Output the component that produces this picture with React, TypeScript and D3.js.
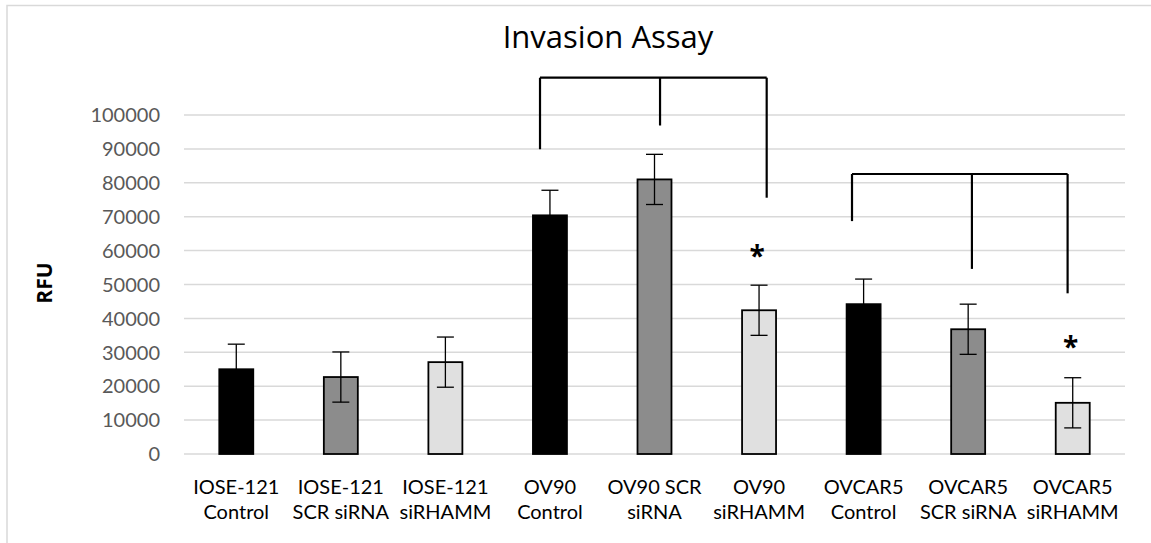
import React, { useEffect, useRef } from 'react';
import * as d3 from 'd3';

// Invasion assay, RFU per condition
const categories = [
  'IOSE-121|Control',
  'IOSE-121|SCR siRNA',
  'IOSE-121|siRHAMM',
  'OV90|Control',
  'OV90 SCR|siRNA',
  'OV90|siRHAMM',
  'OVCAR5|Control',
  'OVCAR5|SCR siRNA',
  'OVCAR5|siRHAMM',
];
const values = [25000, 22700, 27100, 70400, 81000, 42400, 44200, 36800, 15100];
const errors = [7400, 7400, 7400, 7400, 7400, 7400, 7400, 7400, 7400];
const treatment = ['control', 'scr', 'rhamm', 'control', 'scr', 'rhamm', 'control', 'scr', 'rhamm'];
const yTicks = [0, 10000, 20000, 30000, 40000, 50000, 60000, 70000, 80000, 90000, 100000];

// significance brackets: which bars, where the top line sits, where each leg ends
const bracketBars = [[3, 4, 5], [6, 7, 8]];
const bracketTop = [111000, 82600];
const bracketEnds = [[89900, 96900, 75600], [68700, 54600, 47400]];
const bracketShift = [[-0.095, 0.053, 0.073], [-0.111, 0.036, -0.049]]; // fraction of step
const starBars = [5, 8];
const starValues = [59700, 32800];

const FILL: Record<string, string> = { control: '#000000', scr: '#8c8c8c', rhamm: '#e0e0e0' };

export default function App() {
  const ref = useRef<SVGSVGElement>(null);

  useEffect(() => {
    if (!ref.current) return;
    const W = 1151;
    const H = 543;
    const svg = d3.select(ref.current);
    svg.selectAll('*').remove();
    svg.attr('width', W).attr('height', H).style('font-family', "'Open Sans', sans-serif");

    svg.append('rect').attr('width', W).attr('height', H).attr('fill', '#fff');
    // chart frame (runs off right & bottom in the original)
    svg.append('rect')
      .attr('x', 7).attr('y', 5.5).attr('width', W + 20).attr('height', H + 20)
      .attr('fill', 'none').attr('stroke', '#d9d9d9').attr('stroke-width', 1.5);

    const x = d3.scaleBand<number>()
      .domain(d3.range(categories.length))
      .range([184, 1125])
      .paddingInner(0.675)
      .paddingOuter(0.3375);
    const y = d3.scaleLinear().domain([0, 100000]).range([454, 115]);
    const cx = (i: number) => (x(i) as number) + x.bandwidth() / 2;

    // gridlines
    svg.append('g').selectAll('line').data(yTicks).enter().append('line')
      .attr('x1', 184).attr('x2', 1125)
      .attr('y1', d => y(d)).attr('y2', d => y(d))
      .attr('stroke', '#d9d9d9').attr('stroke-width', 1.5);

    // y tick labels
    svg.append('g').selectAll('text').data(yTicks).enter().append('text')
      .attr('x', 160).attr('y', d => y(d))
      .attr('dy', '0.36em')
      .attr('text-anchor', 'end')
      .attr('font-size', 20)
      .attr('font-family', 'Lato, sans-serif')
      .attr('fill', '#595959')
      .text(d => String(d));

    // y axis title
    svg.append('text')
      .attr('transform', 'translate(52,283) rotate(-90)')
      .attr('text-anchor', 'middle')
      .attr('font-size', 21)
      .attr('font-weight', 'bold')
      .attr('fill', '#000')
      .text('RFU');

    // title
    svg.append('text')
      .attr('x', 608).attr('y', 48)
      .attr('text-anchor', 'middle')
      .attr('font-size', 31)
      .attr('fill', '#000')
      .text('Invasion Assay');

    // bars
    svg.append('g').selectAll('rect').data(values).enter().append('rect')
      .attr('x', (_, i) => x(i) as number)
      .attr('width', x.bandwidth())
      .attr('y', d => y(d))
      .attr('height', d => y(0) - y(d))
      .attr('fill', (_, i) => FILL[treatment[i]])
      .attr('stroke', '#000')
      .attr('stroke-width', 1.8);

    // error bars
    const eb = svg.append('g').attr('stroke', '#000').attr('stroke-width', 1.3);
    values.forEach((v, i) => {
      const c = cx(i);
      const hi = y(v + errors[i]);
      const lo = y(v - errors[i]);
      eb.append('line').attr('x1', c).attr('x2', c).attr('y1', hi).attr('y2', lo);
      eb.append('line').attr('x1', c - 8.5).attr('x2', c + 8.5).attr('y1', hi).attr('y2', hi);
      eb.append('line').attr('x1', c - 8.5).attr('x2', c + 8.5).attr('y1', lo).attr('y2', lo);
    });

    // category labels (two lines)
    const lab = svg.append('g')
      .attr('font-size', 20)
      .attr('font-family', 'Lato, sans-serif')
      .attr('fill', '#000')
      .attr('text-anchor', 'middle');
    categories.forEach((c, i) => {
      const [a, b] = c.split('|');
      lab.append('text').attr('x', cx(i)).attr('y', 494).text(a);
      lab.append('text').attr('x', cx(i)).attr('y', 519).text(b);
    });

    // brackets
    const step = x.step();
    const br = svg.append('g').attr('stroke', '#000').attr('stroke-width', 2.2).attr('fill', 'none');
    bracketBars.forEach((bars, k) => {
      const xs = bars.map((b, j) => cx(b) + bracketShift[k][j] * step);
      const top = y(bracketTop[k]);
      br.append('line').attr('x1', xs[0]).attr('x2', xs[2]).attr('y1', top).attr('y2', top);
      xs.forEach((xx, j) => {
        br.append('line').attr('x1', xx).attr('x2', xx).attr('y1', top).attr('y2', y(bracketEnds[k][j]));
      });
    });

    // significance stars
    svg.append('g').selectAll('text').data(starBars).enter().append('text')
      .attr('x', (b) => cx(b) - 2)
      .attr('y', (_, k) => y(starValues[k]) + 14)
      .attr('text-anchor', 'middle')
      .attr('font-size', 28)
      .attr('font-weight', 'bold')
      .attr('fill', '#000')
      .text('*');
  }, []);

  return (
    <div style={{ position: 'absolute', left: 0, top: 0 }}>
      <svg ref={ref} style={{ display: 'block' }} />
    </div>
  );
}
